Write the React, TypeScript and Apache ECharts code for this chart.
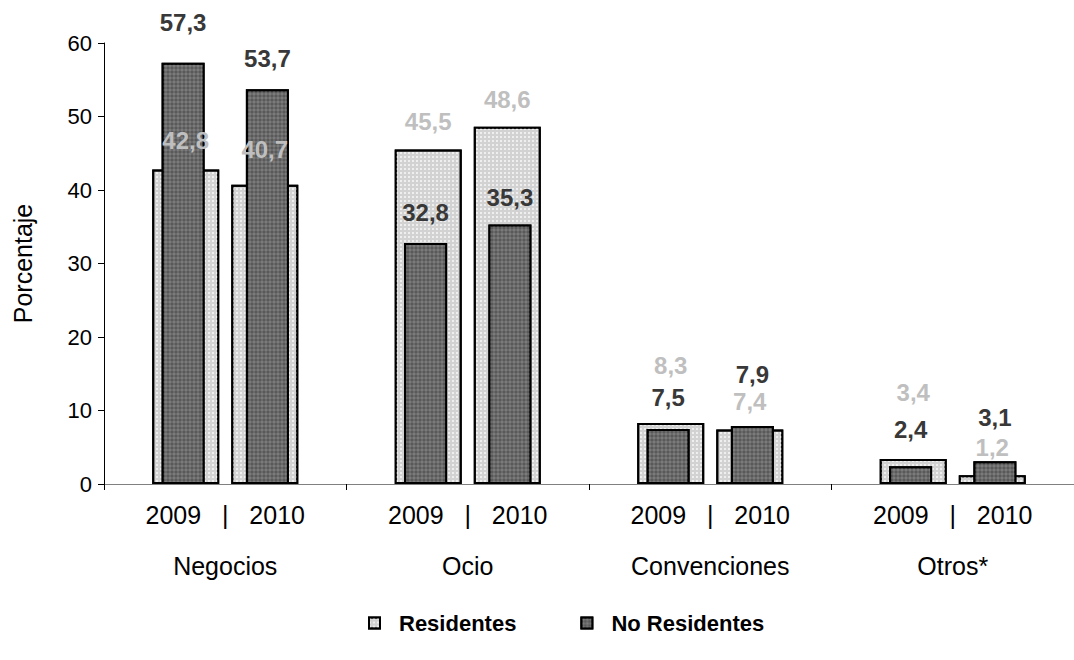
import React, { useEffect, useRef } from "react";
import * as echarts from "echarts";

const categories = ["Negocios", "Ocio", "Convenciones", "Otros*"];
const yearLabel = "2009   |   2010";
const residentes2009 = [42.8, 45.5, 8.3, 3.4];
const residentes2010 = [40.7, 48.6, 7.4, 1.2];
const noResidentes2009 = [57.3, 32.8, 7.5, 2.4];
const noResidentes2010 = [53.7, 35.3, 7.9, 3.1];
const yTicks = [0, 10, 20, 30, 40, 50, 60];

// label distances (layout only)
const distRes2009 = [17, 16, 45, 55];
const distRes2010 = [23, 15, 16, 16];
const distNoRes2009 = [28, 18, 19, 25];
const distNoRes2010 = [19, 15, 39, 32];

const fmt = (v: number) => v.toFixed(1).replace(".", ",");

const FONT = "'Liberation Sans', Arial, sans-serif";
const LIGHT_LABEL = "#bfbfbf";
const DARK_LABEL = "#383838";

const lightStyle = {
  color: "#d2d2d2",
  borderColor: "#000",
  borderWidth: 2,
  decal: {
    symbol: "rect",
    symbolSize: 0.9,
    dashArrayX: [2, 2],
    dashArrayY: [2, 2],
    color: "rgba(245,245,245,0.9)",
    rotation: 0,
  },
};
const darkStyle = {
  color: "#595959",
  borderColor: "#000",
  borderWidth: 2,
  decal: {
    symbol: "diamond",
    symbolSize: 1,
    dashArrayX: [4, 0],
    dashArrayY: [4, 0],
    color: "rgba(135,135,135,0.75)",
    rotation: 0,
  },
};

const withDist = (vals: number[], dist: number[]) =>
  vals.map((v, i) => ({ value: v, label: { distance: dist[i] } }));

export default function App() {
  const ref = useRef<HTMLDivElement>(null);
  useEffect(() => {
    if (!ref.current) return;
    const chart = echarts.init(ref.current, null, { renderer: "svg" });
    const xBase = {
      type: "category" as const,
      data: categories,
    };
    const dataLabel = (color: string) => ({
      show: true,
      position: "top" as const,
      fontFamily: FONT,
      fontSize: 24,
      fontWeight: "bold" as const,
      color,
      formatter: (p: any) => fmt(p.value),
    });
    chart.setOption({
      animation: false,
      textStyle: { fontFamily: FONT },
      grid: { left: 104, top: 43, width: 980, height: 441, containLabel: false },
      legend: {
        data: ["Residentes", "No Residentes"],
        left: 363,
        top: 607,
        itemWidth: 11,
        itemHeight: 11,
        itemGap: 64,
        icon: "rect",
        textStyle: {
          fontFamily: FONT,
          fontSize: 22,
          fontWeight: "bold",
          color: "#000",
          padding: [0, 0, 0, 14],
        },
      },
      xAxis: [
        {
          ...xBase,
          axisLine: { show: true, lineStyle: { color: "#808080", width: 1 } },
          axisTick: { show: true, length: 6, lineStyle: { color: "#000" } },
          axisLabel: {
            margin: 16,
            formatter: (v: string) => `{y|${yearLabel}}\n{c|${v}}`,
            rich: {
              y: { fontFamily: FONT, fontSize: 25, lineHeight: 30, color: "#000" },
              c: { fontFamily: FONT, fontSize: 25, lineHeight: 72, color: "#000" },
            },
          },
        },
        { ...xBase, show: false },
        { ...xBase, show: false },
      ],
      yAxis: {
        type: "value",
        min: 0,
        max: 60,
        interval: 10,
        name: "Porcentaje",
        nameLocation: "middle",
        nameGap: 69,
        nameTextStyle: { fontFamily: FONT, fontSize: 25, color: "#000" },
        axisLine: { show: true, lineStyle: { color: "#000", width: 1 } },
        axisTick: { show: true, length: 6, lineStyle: { color: "#000" } },
        splitLine: { show: false },
        axisLabel: {
          margin: 12,
          fontFamily: FONT,
          fontSize: 22,
          color: "#000",
          customValues: yTicks,
        },
      },
      series: [
        {
          name: "Residentes",
          type: "bar",
          xAxisIndex: 0,
          data: residentes2009,
          barWidth: 67,
          barGap: "18%",
          itemStyle: lightStyle,
          silent: true,
        },
        {
          name: "Residentes",
          type: "bar",
          xAxisIndex: 0,
          data: residentes2010,
          barWidth: 67,
          barGap: "18%",
          itemStyle: lightStyle,
          silent: true,
        },
        {
          name: "No Residentes",
          type: "bar",
          xAxisIndex: 1,
          data: withDist(noResidentes2009, distNoRes2009),
          barWidth: 43,
          barGap: "96%",
          itemStyle: darkStyle,
          label: dataLabel(DARK_LABEL),
          silent: true,
        },
        {
          name: "No Residentes",
          type: "bar",
          xAxisIndex: 1,
          data: withDist(noResidentes2010, distNoRes2010),
          barWidth: 43,
          barGap: "96%",
          itemStyle: darkStyle,
          label: dataLabel(DARK_LABEL),
          silent: true,
        },
        {
          name: "resLabels2009",
          type: "bar",
          xAxisIndex: 2,
          z: 5,
          data: withDist(residentes2009, distRes2009),
          barWidth: 67,
          barGap: "18%",
          itemStyle: { color: "rgba(0,0,0,0)" },
          label: dataLabel(LIGHT_LABEL),
          silent: true,
        },
        {
          name: "resLabels2010",
          type: "bar",
          xAxisIndex: 2,
          z: 5,
          data: withDist(residentes2010, distRes2010),
          barWidth: 67,
          barGap: "18%",
          itemStyle: { color: "rgba(0,0,0,0)" },
          label: dataLabel(LIGHT_LABEL),
          silent: true,
        },
      ],
    });
    return () => chart.dispose();
  }, []);
  return (
    <div
      ref={ref}
      style={{ width: 1074, height: 660, position: "absolute", left: 0, top: 0 }}
    />
  );
}
